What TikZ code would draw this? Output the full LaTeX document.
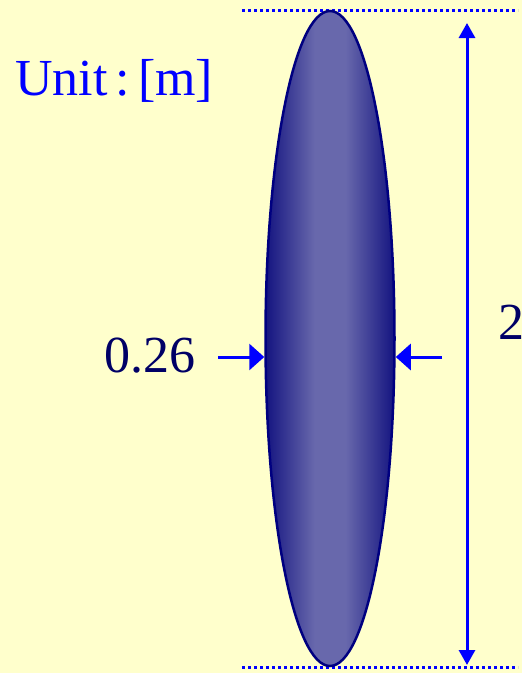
\documentclass[tikz,border=0pt]{standalone}
\usepackage{fontspec}
\setmainfont{Liberation Serif}
\usetikzlibrary{shapes.geometric,arrows.meta}
\definecolor{bg}{HTML}{FFFFCC}
\definecolor{ink}{HTML}{0000FF}
\definecolor{dark}{HTML}{000066}
\definecolor{rim}{HTML}{000080}
\definecolor{edgefill}{HTML}{141480}
\definecolor{midfill}{HTML}{6868AC}
\pgfdeclarehorizontalshading{bodyshade}{100bp}{color(0bp)=(edgefill); color(25bp)=(edgefill); color(44bp)=(midfill); color(56bp)=(midfill); color(75bp)=(edgefill); color(100bp)=(edgefill)}
\tikzset{
  dotline/.style={ink, line width=3pt, dash pattern=on 3pt off 3pt},
  dimarrow/.style={ink, line width=3pt, -{Triangle[length=15pt,width=26pt]}},
  heightarrow/.style={ink, line width=3pt, {Triangle[length=15pt,width=16pt]}-{Triangle[length=15pt,width=16pt]}},
  bigtext/.style={inner sep=0pt, font=\fontsize{52}{60}\selectfont},
}
\begin{document}
\begin{tikzpicture}[x=1pt,y=-1pt]
\useasboundingbox (0,0) rectangle (522,673);
\fill[bg] (0,0) rectangle (522,673);
% dotted reference lines
\coordinate (tl) at (242,10);
\coordinate (tr) at (518,10);
\coordinate (bl) at (242,667);
\coordinate (br) at (518,667);
\draw[dotline] (tl) -- (tr);
\draw[dotline] (bl) -- (br);
% body
\node[ellipse, draw=rim, line width=2.5pt, shading=bodyshade, inner sep=0pt,
      minimum width=129pt, minimum height=655pt] (body) at (330,338.5) {};
% height arrow
\coordinate (htop) at (467,23);
\coordinate (hbot) at (467,665);
\draw[heightarrow] (htop) -- (hbot);
\node[bigtext, text=dark, anchor=base west] (hlabel) at (498,339) {2};
% width arrows
\coordinate (lt) at (218,357);
\coordinate (rt) at (442,357);
\draw[dimarrow] (lt) -- (body.west |- lt);
\draw[dimarrow] (rt) -- (body.east |- rt);
\node[bigtext, text=dark, anchor=base east] (wlabel) at (196,372) {0.26};
% unit
\node[bigtext, text=ink, anchor=base west] (unit) at (15,95) {Unit\kern8pt:\kern8pt[m]};
\end{tikzpicture}
\end{document}
